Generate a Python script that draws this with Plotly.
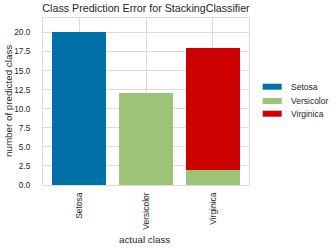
import plotly.graph_objects as go

categories = ["Setosa", "Versicolor", "Virginica"]
pred_setosa = [20, 0, 0]
pred_versicolor = [0, 12, 2]
pred_virginica = [0, 0, 16]
series_names = ["Setosa", "Versicolor", "Virginica"]
colors = ["#0070a8", "#9dc378", "#cc0000"]
y_ticks = [0, 2.5, 5, 7.5, 10, 12.5, 15, 17.5, 20]
y_tick_labels = ["0.0", "2.5", "5.0", "7.5", "10.0", "12.5", "15.0", "17.5", "20.0"]

FONT = "Liberation Sans, Arial, sans-serif"
TXT = "#262626"

fig = go.Figure()
for name, vals, col in zip(series_names, [pred_setosa, pred_versicolor, pred_virginica], colors):
    fig.add_trace(go.Bar(x=list(range(len(categories))), y=vals, name=name,
                         marker=dict(color=col, line=dict(width=0)), showlegend=False))

W, H = 336, 250
L, R, T, B = 43, 87, 18, 65
pw, ph = W - L - R, H - T - B

fig.update_layout(
    width=W, height=H, margin=dict(l=L, r=R, t=T, b=B, pad=0),
    paper_bgcolor="white", plot_bgcolor="white",
    barmode="stack", bargap=0.2,
    font=dict(family=FONT, color=TXT, size=9),
    title=dict(text="Class Prediction Error for StackingClassifier",
               font=dict(size=10.7, family=FONT, color=TXT),
               x=0.5, xref="paper", xanchor="center",
               y=1 - 8.5 / H, yref="container", yanchor="middle"),
    xaxis=dict(range=[-0.54, 2.54], tickvals=list(range(len(categories))), ticktext=categories,
               tickangle=-90, ticks="", showgrid=True, gridcolor="#dcdcdc", gridwidth=1,
               showline=True, linecolor="#dcdcdc", linewidth=1, mirror=True,
               tickfont=dict(size=8.5), zeroline=False, ticklabelstandoff=3),
    yaxis=dict(range=[0, 21.9], tickvals=y_ticks, ticktext=y_tick_labels, ticks="",
               showgrid=True, gridcolor="#dcdcdc", gridwidth=1,
               showline=True, linecolor="#dcdcdc", linewidth=1, mirror=True,
               tickfont=dict(size=8.3), zeroline=False, ticklabelstandoff=10),
)

# axis titles
fig.add_annotation(text="actual class", xref="paper", yref="paper",
                   x=(144 - L) / pw, y=(T + ph - 239) / ph, xanchor="center", yanchor="middle",
                   showarrow=False, font=dict(size=9.8, family=FONT, color=TXT))
fig.add_annotation(text="number of predicted class", xref="paper", yref="paper",
                   x=(8.5 - L) / pw, y=0.5, xanchor="center", yanchor="middle", textangle=-90,
                   showarrow=False, font=dict(size=9.8, family=FONT, color=TXT))

# legend (manual swatches)
row_y = [86.7, 101, 113.7]
for name, col, ry in zip(series_names, colors, row_y):
    fig.add_shape(type="rect", xref="paper", yref="paper",
                  x0=(262.7 - L) / pw, x1=(281.7 - L) / pw,
                  y0=(T + ph - ry - 3) / ph, y1=(T + ph - ry + 3) / ph,
                  fillcolor=col, line=dict(width=0))
    fig.add_annotation(text=name, xref="paper", yref="paper",
                       x=(289 - L) / pw, y=(T + ph - ry) / ph, xanchor="left", yanchor="middle",
                       showarrow=False, font=dict(size=8.5, family=FONT, color=TXT))

fig.write_html("out.html")
